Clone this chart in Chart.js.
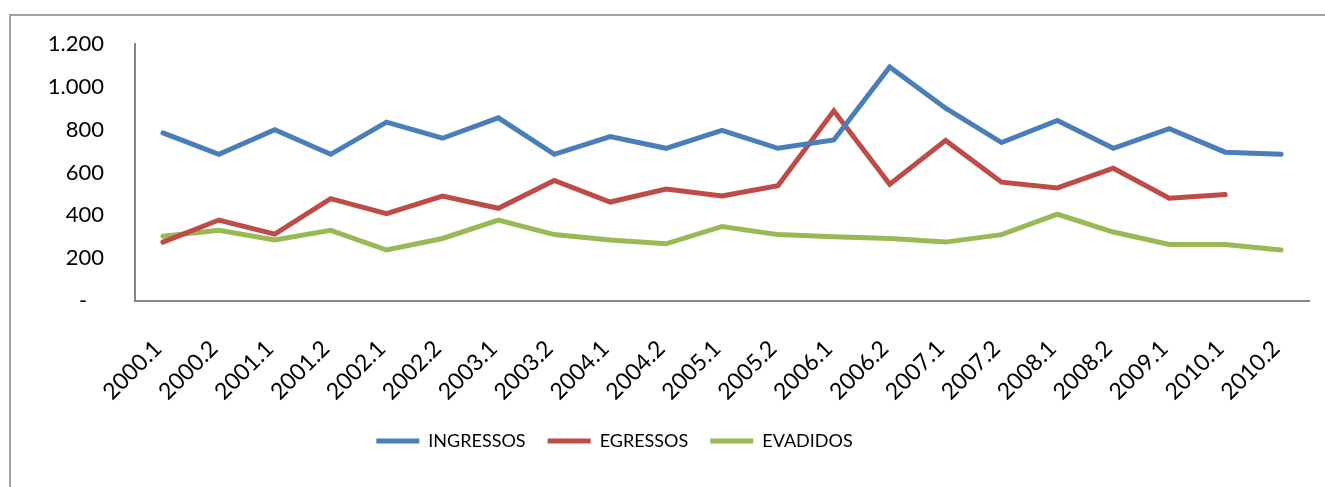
<!DOCTYPE html>
<html>
<head>
<meta charset="utf-8">
<script src="https://cdn.jsdelivr.net/npm/chart.js@4.4.0/dist/chart.umd.min.js"></script>
<style>
  html, body { margin: 0; padding: 0; background: #fff; width: 1325px; height: 487px; overflow: hidden; }
  #frame { position: absolute; left: 9px; top: 14px; width: 1330px; height: 500px; border: 2px solid #a0a0a0; box-sizing: border-box; }
  #wrap { position: absolute; left: 10px; top: 16px; width: 1313px; height: 471px; }
</style>
</head>
<body>
<div id="frame"></div>
<div id="wrap"><canvas id="c" width="1313" height="471"></canvas></div>
<script>
const categories = ["2000.1","2000.2","2001.1","2001.2","2002.1","2002.2","2003.1","2003.2","2004.1","2004.2","2005.1","2005.2","2006.1","2006.2","2007.1","2007.2","2008.1","2008.2","2009.1","2010.1","2010.2"];
const ingressos = [785, 685, 800, 685, 835, 760, 855, 685, 768, 713, 797, 713, 752, 1093, 900, 740, 843, 713, 805, 695, 685];
const egressos  = [275, 378, 312, 478, 408, 490, 433, 563, 462, 523, 490, 538, 888, 545, 750, 555, 528, 620, 480, 497, null];
const evadidos  = [302, 330, 285, 330, 238, 292, 378, 310, 285, 267, 348, 310, 300, 292, 275, 310, 405, 322, 264, 264, 238];
const yTicks = [0, 200, 400, 600, 800, 1000, 1200];

const FONT = "Lato, 'Open Sans', sans-serif";
const axisColor = '#868686';

function fmt(v) {
  if (v === 0) return '-   ';
  return v.toLocaleString('de-DE');
}

const legendShift = {
  id: 'legendShift',
  afterLayout(chart) {
    const lg = chart.legend;
    if (lg) { lg.left -= 45; lg.right -= 45; }
  }
};

new Chart(document.getElementById('c'), {
  type: 'line',
  data: {
    labels: categories,
    datasets: [
      { label: 'INGRESSOS', data: ingressos, borderColor: '#4a7ebb', backgroundColor: '#4a7ebb', pointBorderColor: '#4a7ebb' },
      { label: 'EGRESSOS', data: egressos, borderColor: '#be4b48', backgroundColor: '#be4b48', pointBorderColor: '#be4b48' },
      { label: 'EVADIDOS', data: evadidos, borderColor: '#98b954', backgroundColor: '#98b954', pointBorderColor: '#98b954' }
    ]
  },
  plugins: [legendShift],
  options: {
    responsive: false,
    animation: false,
    devicePixelRatio: 1,
    elements: {
      line: { borderWidth: 5, tension: 0, borderCapStyle: 'round', borderJoinStyle: 'miter' },
      point: { radius: 0, hoverRadius: 0, borderWidth: 5 }
    },
    layout: { padding: { top: 28, right: 14, left: 0, bottom: 27 } },
    scales: {
      x: {
        type: 'category',
        offset: true,
        grid: { display: false, drawTicks: false },
        border: { display: true, color: axisColor, width: 2 },
        ticks: {
          maxRotation: 45, minRotation: 45, autoSkip: false,
          padding: 34,
          labelOffset: -5,
          color: '#000',
          font: { family: FONT, size: 23 }
        },
        afterFit: (s) => { s.height = 109; s.paddingLeft = 0; s.paddingRight = 0; }
      },
      y: {
        min: 0, max: 1200,
        afterBuildTicks: (s) => { s.ticks = yTicks.map(v => ({ value: v })); },
        grid: { display: false, drawTicks: false },
        border: { display: true, color: axisColor, width: 2 },
        ticks: {
          padding: 31,
          color: '#000',
          font: { family: FONT, size: 22 },
          callback: (v) => fmt(v)
        },
        afterFit: (s) => { s.width = 125; s.paddingTop = 0; s.paddingBottom = 0; }
      }
    },
    plugins: {
      legend: {
        position: 'bottom',
        labels: {
          usePointStyle: true,
          pointStyle: 'line',
          pointStyleWidth: 43,
          boxWidth: 43,
          boxHeight: 10,
          padding: 22,
          color: '#000',
          font: { family: FONT, size: 18 }
        }
      },
      tooltip: { enabled: false }
    }
  }
});
</script>
</body>
</html>
